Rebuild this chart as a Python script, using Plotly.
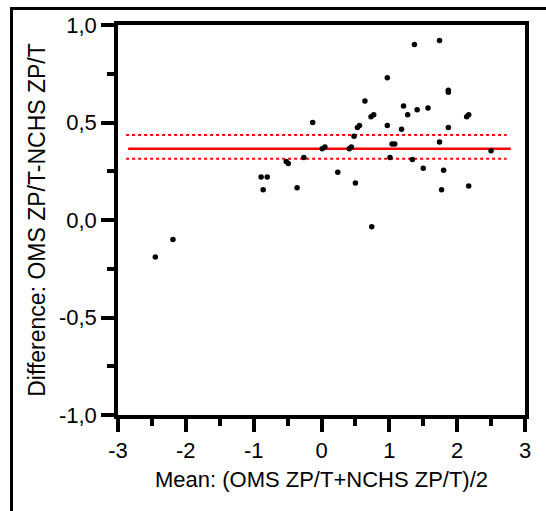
import plotly.graph_objects as go

# Data
mean_vals = [-2.45, -2.19, -0.89, -0.80, -0.86, -0.52, -0.49, -0.36, -0.26, -0.13,
             0.01, 0.05, 0.24, 0.41, 0.44, 0.48, 0.50, 0.53, 0.56, 0.64,
             0.73, 0.77, 0.74, 0.97, 0.97, 1.01, 1.04, 1.08, 1.18, 1.21,
             1.27, 1.34, 1.37, 1.41, 1.50, 1.57, 1.74, 1.74, 1.77, 1.80,
             1.87, 1.87, 1.87, 2.14, 2.17, 2.17, 2.50]
diff_vals = [-0.19, -0.10, 0.22, 0.22, 0.155, 0.30, 0.29, 0.165, 0.32, 0.50,
             0.365, 0.375, 0.245, 0.365, 0.375, 0.43, 0.19, 0.475, 0.485, 0.61,
             0.53, 0.54, -0.035, 0.73, 0.485, 0.32, 0.39, 0.39, 0.465, 0.585,
             0.54, 0.31, 0.90, 0.565, 0.265, 0.575, 0.92, 0.40, 0.155, 0.255,
             0.665, 0.655, 0.475, 0.53, 0.54, 0.175, 0.355]

bias = 0.366
ci_upper = 0.436
ci_lower = 0.314
line_x = [-2.85, 2.79]
ci_x = [-2.88, 2.73]

x_ticks = [-3, -2, -1, 0, 1, 2, 3]
x_ticklabels = ["-3", "-2", "-1", "0", "1", "2", "3"]
y_ticks = [-1.0, -0.5, 0.0, 0.5, 1.0]
y_ticklabels = ["-1,0", "-0,5", "0,0", "0,5", "1,0"]

x_title = "Mean: (OMS ZP/T+NCHS ZP/T)/2"
y_title = "Difference: OMS ZP/T-NCHS ZP/T"

FONT = "Liberation Sans, Arial, sans-serif"
W, H = 546, 511

fig = go.Figure()

fig.add_trace(go.Scatter(x=line_x, y=[bias, bias], mode="lines",
                         line=dict(color="#ff0000", width=2.5), hoverinfo="skip"))
for v in (ci_upper, ci_lower):
    fig.add_trace(go.Scatter(x=ci_x, y=[v, v], mode="lines",
                             line=dict(color="#ff0000", width=2, dash="dot"), hoverinfo="skip"))

fig.add_trace(go.Scatter(x=mean_vals, y=diff_vals, mode="markers",
                         marker=dict(color="black", size=5.5)))

axis_common = dict(
    showgrid=False, zeroline=False, showline=True, linecolor="black", linewidth=3.5,
    mirror=True, ticks="outside", tickcolor="black", tickwidth=3.5, automargin=False,
    tickfont=dict(family=FONT, size=22, color="black"),
)

fig.update_layout(
    xaxis=dict(range=[-3, 3], tickvals=x_ticks, ticktext=x_ticklabels, ticklen=13,
               domain=[118 / W, 525 / W],
               minor=dict(dtick=0.5, tick0=0, ticks="outside", ticklen=7,
                          tickwidth=3.5, tickcolor="black"),
               title=dict(text=x_title, font=dict(family=FONT, size=22, color="black"),
                          standoff=10),
               **axis_common),
    yaxis=dict(range=[-1, 1], tickvals=y_ticks, ticktext=y_ticklabels, ticklen=13,
               domain=[1 - 415 / H, 1 - 25 / H],
               minor=dict(dtick=0.25, tick0=0, ticks="outside", ticklen=7,
                          tickwidth=3.5, tickcolor="black"),
               title=dict(text=y_title, font=dict(family=FONT, size=23, color="black"),
                          standoff=8),
               **axis_common),
)

# Outer page frame: left edge as a shape, top edge as thin filled annotation box
fig.add_shape(type="rect", xref="paper", yref="paper", x0=10 / W, x1=13 / W,
              y0=0.0, y1=1 - 7 / H, fillcolor="black", line=dict(width=0),
              layer="above")
fig.add_shape(type="rect", xref="paper", yref="paper", x0=10 / W, x1=1.0,
              y0=1 - 10 / H, y1=1 - 7 / H, fillcolor="black", line=dict(width=0),
              layer="above")
fig.add_annotation(text=" ", xref="paper", yref="paper", x=10 / W, y=1 - 7 / H,
                   xanchor="left", yanchor="top", showarrow=False,
                   width=536, height=3, bgcolor="black", borderpad=0, borderwidth=0,
                   font=dict(size=1, color="black"))

fig.update_layout(
    template="none",
    width=W, height=H,
    margin=dict(l=0, r=0, t=0, b=0),
    paper_bgcolor="white", plot_bgcolor="white",
    showlegend=False,
    font=dict(family=FONT, color="black"),
)

fig.write_html("out.html", config={"displayModeBar": False})
